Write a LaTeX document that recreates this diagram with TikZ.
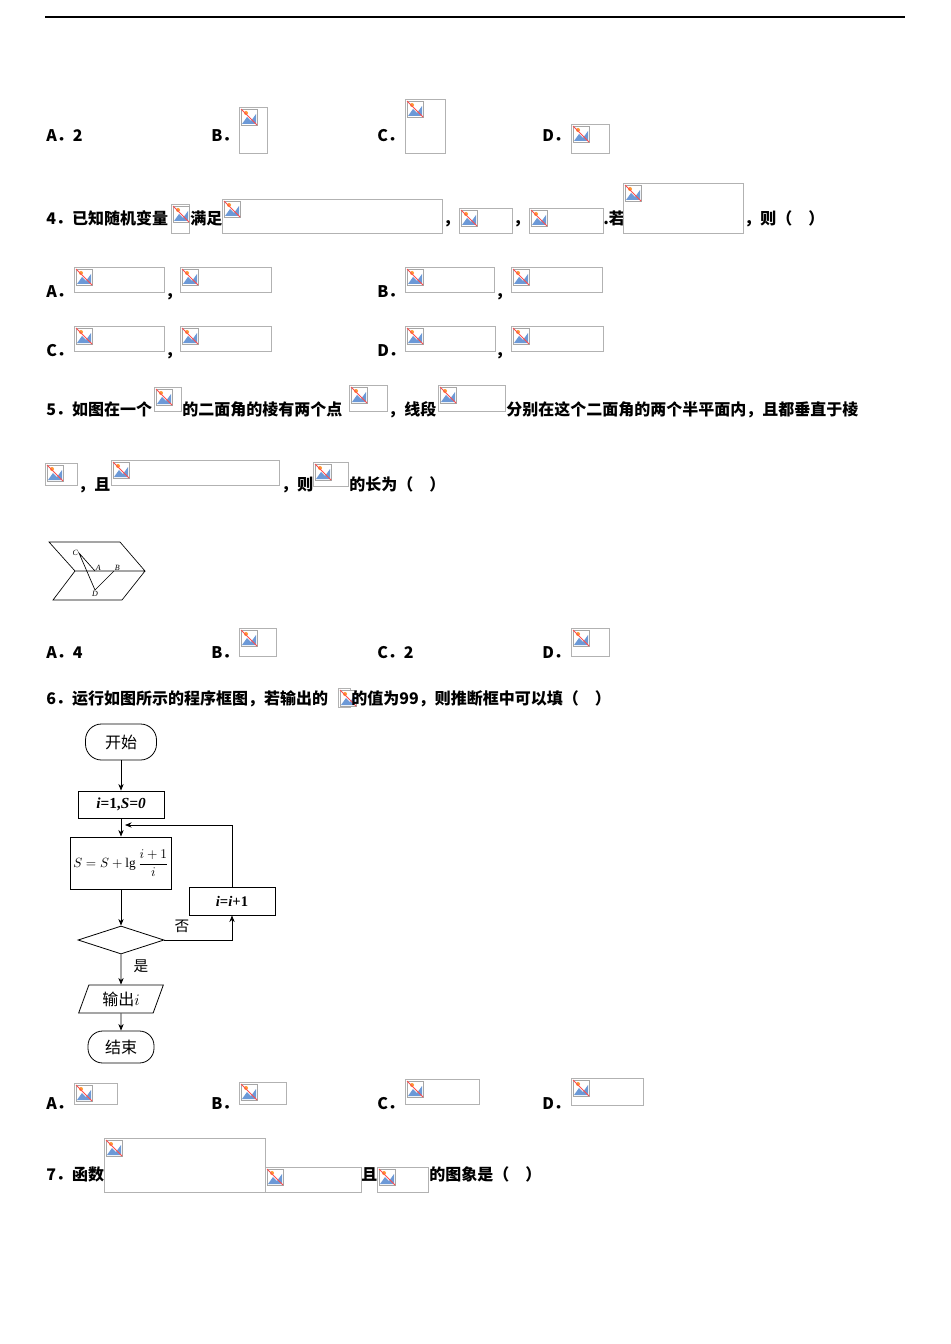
\documentclass[tikz,border=0pt]{standalone}
\usepackage{amsmath}
\usepackage{fontspec}
\setmainfont{Liberation Serif}
\newfontfamily\cjk{Noto Sans CJK SC}
\usetikzlibrary{shapes.geometric,arrows.meta}
\newcommand{\img}[4]{%
  \draw[gray!60,line width=0.5pt] (#1,#2) rectangle ++(#3,#4);
  \begin{scope}[shift={(#1+2,#2+2)}]
    \draw[gray!70,fill=white,line width=0.4pt] (0,0) rectangle (16,16);
    \fill[cyan!50!blue!60] (1,15) -- (6,8) -- (10,12) -- (15,5) -- (15,15) -- cycle;
    \fill[orange!80] (5,4) circle (2);
    \draw[red!70,line width=0.7pt] (0,0) -- (16,16);
  \end{scope}}
\newcommand{\bi}[1]{\textbf{\textit{#1}}}
\tikzset{
  t/.style={anchor=base west,inner sep=0pt,font=\cjk\bfseries\fontsize{12}{13}\selectfont},
  fc/.style={draw,line width=0.6pt,font=\cjk\fontsize{12}{13}\selectfont,inner sep=2pt},
  ar/.style={-{Stealth[length=5pt,width=4pt]},line width=0.6pt},
  fig/.style={font=\fontsize{6}{6}\selectfont\itshape,inner sep=0.5pt}
}
\begin{document}
\begin{tikzpicture}[x=0.75pt,y=-0.75pt]
\useasboundingbox (0,0) rectangle (950,1344);
\draw[line width=0.8pt] (45,17) -- (905,17);
% row A-D
\node[t] at (46,142) {A．2};
\node[t] at (211,142) {B．}; \img{239}{107}{28}{46}
\node[t] at (377,142) {C．}; \img{405}{99}{40}{54}
\node[t] at (542,142) {D．}; \img{571}{124}{38}{29}
% Q4
\node[t] at (46,225) {4．已知随机变量}; \img{171}{204}{18}{29}
\node[t] at (190,225) {满足}; \img{222}{199}{220}{34}
\node[t] at (443,225) {，}; \img{459}{208}{53}{25}
\node[t] at (513,225) {，}; \img{529}{208}{74}{25}
\node[t] at (603,225) {.若}; \img{623}{183}{120}{50}
\node[t] at (744,225) {，则（　）};
\node[t] at (46,297) {A．}; \img{74}{267}{90}{25} \node[t] at (165,297) {，}; \img{180}{267}{91}{25}
\node[t] at (377,297) {B．}; \img{405}{267}{89}{25} \node[t] at (495,297) {，}; \img{511}{267}{91}{25}
\node[t] at (46,356) {C．}; \img{74}{326}{90}{25} \node[t] at (165,356) {，}; \img{180}{326}{91}{25}
\node[t] at (377,356) {D．}; \img{405}{326}{90}{25} \node[t] at (495,356) {，}; \img{511}{326}{92}{25}
% Q5
\node[t] at (46,415) {5．如图在一个}; \img{154}{387}{27}{24}
\node[t] at (182,415) {的二面角的棱有两个点}; \img{349}{385}{38}{26}
\node[t] at (388,415) {，线段}; \img{438}{385}{67}{26}
\node[t] at (506,415) {分别在这个二面角的两个半平面内，且都垂直于棱};
\img{45}{463}{32}{22}
\node[t] at (78,490) {，且}; \img{111}{460}{168}{25}
\node[t] at (281,490) {，则}; \img{313}{462}{35}{24}
\node[t] at (349,490) {的长为（　）};
% figure
\coordinate (p1) at (49,542); \coordinate (p2) at (120,542); \coordinate (p3) at (145,571);
\coordinate (p4) at (75,571); \coordinate (p5) at (53,600); \coordinate (p6) at (122,600);
\draw[line width=0.5pt] (p4) -- (p1) -- (p2) -- (p3) -- (p4) -- (p5) -- (p6) -- (p3);
\coordinate (C) at (79,553); \coordinate (A) at (95,571); \coordinate (B) at (114,571); \coordinate (D) at (95,590);
\draw[line width=0.5pt] (A) -- (C) -- (D) -- (B);
\node[fig,anchor=east] at (C) {C};
\node[fig,anchor=south west] at (A) {A};
\node[fig,anchor=south west] at (B) {B};
\node[fig,anchor=north] at (D) {D};
\node[t] at (46,658) {A．4};
\node[t] at (211,658) {B．}; \img{239}{628}{37}{28}
\node[t] at (377,658) {C．2};
\node[t] at (542,658) {D．}; \img{571}{628}{38}{28}
% Q6
\node[t] at (46,704) {6．运行如图所示的程序框图，若输出的}; \img{338}{688}{12}{19}
\node[t] at (351,704) {的值为99，则推断框中可以填（　）};
% flowchart
\node[fc,rounded corners=12pt,minimum width=71pt*0.75,minimum height=36pt*0.75] (st) at (121,742) {开始};
\node[fc,minimum width=86pt*0.75,minimum height=27pt*0.75,font=\fontsize{11.5}{12}\selectfont] (b1) at (121,804.5) {\bi{i}\textbf{=1,}\bi{S=0}};
\node[fc,text width=96pt*0.75,align=center,minimum height=52pt*0.75,font=\fontsize{10}{12}\selectfont] (b2) at (121,863) {$S=S+\lg\dfrac{i+1}{i}$};
\node[fc,minimum width=86pt*0.75,minimum height=28pt*0.75,font=\fontsize{11}{12}\selectfont] (b3) at (232,901) {\bi{i}\textbf{=}\bi{i}\textbf{+1}};
\node[fc,diamond,aspect=3.1,minimum width=86pt*0.75,minimum height=28pt*0.75,inner sep=0pt] (dm) at (121,940) {};
\node[fc,trapezium,trapezium left angle=70,trapezium right angle=110,minimum width=80pt*0.75,minimum height=28pt*0.75,inner sep=1pt] (out) at (121,999) {输出$i$};
\node[fc,rounded corners=11pt,minimum width=66pt*0.75,minimum height=32pt*0.75] (en) at (121,1047) {结束};
\draw[ar] (st) -- (b1);
\draw[ar] (b1) -- (b2);
\draw[ar] (b2) -- (dm);
\draw[ar] (dm) -- (out);
\draw[ar] (out) -- (en);
\coordinate (lp) at (125,825);
\draw[ar] (b3.north) |- (lp);
\draw[ar] (dm.east) -| (b3.south);
\node[font=\cjk\fontsize{11}{12}\selectfont] at (182,926) {否};
\node[font=\cjk\fontsize{11}{12}\selectfont] at (141,966) {是};
\node[t] at (46,1109) {A．}; \img{74}{1083}{43}{21}
\node[t] at (211,1109) {B．}; \img{239}{1082}{47}{22}
\node[t] at (377,1109) {C．}; \img{405}{1079}{74}{25}
\node[t] at (542,1109) {D．}; \img{571}{1078}{72}{27}
% Q7
\node[t] at (46,1180) {7．函数}; \img{104}{1138}{161}{54}
\img{265}{1167}{96}{25}
\node[t] at (361,1180) {且}; \img{377}{1167}{51}{25}
\node[t] at (429,1180) {的图象是（　）};
\end{tikzpicture}
\end{document}
